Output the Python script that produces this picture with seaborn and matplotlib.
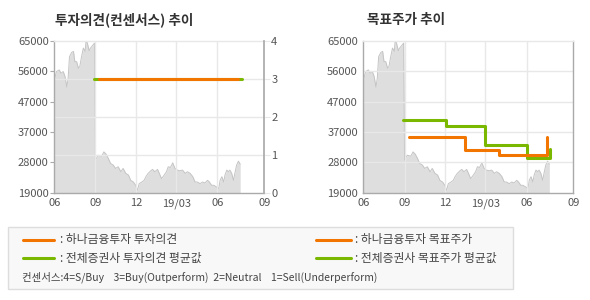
import matplotlib
matplotlib.use("Agg")
import matplotlib.pyplot as plt
import seaborn as sns
import pandas as pd
import numpy as np
from matplotlib.patches import Rectangle
from matplotlib.lines import Line2D

sns.set_theme(style="white")
plt.rcParams['font.family'] = ['Noto Sans CJK KR', 'DejaVu Sans']

# ---- data ----
price_days = [0, 5, 11, 15, 20, 24, 28, 31, 34, 39, 43, 46, 50, 54, 57, 61, 65, 69, 71, 74,
              78, 81, 87, 90, 91, 92, 98, 106, 111, 116, 121, 126, 132, 137, 143, 149, 154,
              160, 166, 171, 177, 182, 186, 190, 196, 201, 205, 210, 216, 220, 225, 231, 235,
              240, 246, 251, 255, 260, 265, 270, 275, 281, 287, 293, 298, 304, 310, 315, 320,
              326, 332, 337, 343, 347, 352, 357, 363, 368, 371, 375, 379, 382, 386, 390, 393,
              397, 401, 404, 408, 412, 416]
price_vals = [53200, 55700, 56200, 55200, 55700, 54200, 51000, 53700, 60200, 61500, 61800,
              58700, 58700, 56700, 57200, 60200, 62800, 61800, 65000, 64300, 62000, 62800,
              63800, 64300, 47100, 28900, 30400, 30100, 31400, 30700, 29400, 27900, 27400,
              26400, 26900, 25400, 26400, 24900, 24400, 22800, 22300, 21300, 19800, 21800,
              22300, 22800, 23900, 24900, 25700, 26100, 25400, 26100, 24900, 23300, 24400,
              25400, 26900, 26700, 28100, 26400, 25900, 25700, 25900, 24900, 25400, 24900,
              23900, 22300, 22300, 21800, 22300, 22000, 22800, 22300, 21300, 21300, 20800,
              20300, 22800, 23900, 22300, 24400, 25900, 25400, 25900, 24900, 22800, 24900,
              27400, 28600, 27700]

opinion_hana_days = [100, 412]
opinion_hana_vals = [3, 3]
opinion_avg_days = [89, 420]
opinion_avg_vals = [3, 3]

target_hana_days = [101, 228, 303, 411]
target_hana_vals = [36000, 32000, 30400, 36000]
target_avg_days = [89, 184, 273, 365, 417]
target_avg_vals = [41000, 39300, 33400, 29700, 32300]

xtick_pos = [0, 92, 183, 273, 365, 470]
xtick_labels = ['06', '09', '12', '19/03', '06', '09']
ytick_pos = [19000, 28200, 37400, 46600, 55800, 65000]
ytick_labels = ['19000', '28000', '37000', '47000', '56000', '65000']

titles = ['투자의견(컨센서스) 추이', '목표주가 추이']
legend_labels = [': 하나금융투자 투자의견', ': 전체증권사 투자의견 평균값',
                 ': 하나금융투자 목표주가', ': 전체증권사 목표주가 평균값']
consensus_note = '컨센서스:4=S/Buy    3=Buy(Outperform)  2=Neutral    1=Sell(Underperform)'

ORANGE = '#f27500'
GREEN = '#7ab800'
AREA = '#dedede'
AREA_LINE = '#c4c4c4'
GRID = '#e8e8e8'
SPINE = '#aaaaaa'
TXT = '#555555'

price_df = pd.DataFrame({'day': price_days, 'price': price_vals})

fig = plt.figure(figsize=(5.9, 3.0), dpi=100)

def base_axes(rect):
    ax = fig.add_axes(rect)
    ax.set_xlim(0, 470)
    ax.set_ylim(19000, 65000)
    ax.fill_between(price_df['day'], price_df['price'], 19000, color=AREA, lw=0, zorder=1)
    sns.lineplot(data=price_df, x='day', y='price', ax=ax, color=AREA_LINE, lw=0.7, zorder=2)
    ax.set_xticks(xtick_pos)
    ax.set_xticklabels(xtick_labels)
    ax.set_yticks(ytick_pos)
    ax.set_yticklabels(ytick_labels)
    ax.set_xlabel('')
    ax.set_ylabel('')
    ax.tick_params(axis='both', labelsize=8, colors=TXT, length=3, width=0.8, pad=1)
    ax.tick_params(axis='both', color=SPINE)
    for s in ['left', 'bottom', 'right']:
        ax.spines[s].set_color(SPINE)
        ax.spines[s].set_linewidth(1.0)
    ax.spines['top'].set_color(GRID)
    ax.spines['top'].set_linewidth(1.0)
    for xp in xtick_pos[1:-1]:
        ax.axvline(xp, color=GRID, lw=1.0, zorder=2.5)
    return ax

# Left chart
axL = base_axes([0.092, 0.357, 0.356, 0.507])
axL.spines['right'].set_visible(False)
for yv in [30500, 42000, 53500]:
    axL.axhline(yv, color=GRID, lw=1.0, zorder=2.5)
axR2 = axL.twinx()
axR2.set_ylim(0, 4)
axR2.set_yticks([0, 1, 2, 3, 4])
axR2.tick_params(axis='y', labelsize=8, colors=TXT, length=4, width=0.8, pad=1)
axR2.tick_params(axis='y', color=GRID)
for s in ['left', 'bottom', 'top']:
    axR2.spines[s].set_visible(False)
axR2.spines['right'].set_color(SPINE)
sns.lineplot(x=opinion_avg_days, y=opinion_avg_vals, ax=axR2, color=GREEN, lw=2.2, zorder=3)
sns.lineplot(x=opinion_hana_days, y=opinion_hana_vals, ax=axR2, color=ORANGE, lw=2.2, zorder=4)
axR2.set_xlim(0, 470)
axR2.set_ylabel('')
axL.set_zorder(axR2.get_zorder() - 1)
axR2.patch.set_visible(False)
axL.set_ylim(19000, 65000)

# Right chart
axP = base_axes([0.616, 0.357, 0.356, 0.507])
axP.spines['right'].set_color(SPINE)
for yv in ytick_pos[1:-1]:
    axP.axhline(yv, color=GRID, lw=1.0, zorder=2.5)
sns.lineplot(x=target_avg_days, y=target_avg_vals, ax=axP, color=GREEN, lw=2.2,
             drawstyle='steps-post', zorder=3)
sns.lineplot(x=target_hana_days, y=target_hana_vals, ax=axP, color=ORANGE, lw=2.2,
             drawstyle='steps-post', zorder=4)
axP.set_xlabel('')
axP.set_ylabel('')

fig.text(55 / 590, 1 - 20 / 300, titles[0], fontsize=9.8, fontweight='bold', color='#333333',
         va='center', ha='left')
fig.text(367 / 590, 1 - 20 / 300, titles[1], fontsize=9.8, fontweight='bold', color='#333333',
         va='center', ha='left')

# Legend box
fig.patches.append(Rectangle((8 / 590, 1 - 289 / 300), 505 / 590, 62 / 300,
                             transform=fig.transFigure, facecolor='#f8f8f8',
                             edgecolor='#dddddd', lw=1.0))
rows = [240, 258]
cols = [(23, 54, 60), (316, 351, 355)]
colors = [ORANGE, GREEN]
k = 0
for c in cols:
    for r, col in zip(rows, colors):
        yy = 1 - r / 300
        fig.add_artist(Line2D([c[0] / 590, c[1] / 590], [yy, yy], color=col, lw=2.2,
                              transform=fig.transFigure))
        fig.text(c[2] / 590, yy, legend_labels[k], fontsize=8.5, color='#444444', va='center',
                 ha='left')
        k += 1
fig.text(22 / 590, 1 - 277 / 300, consensus_note, fontsize=7.5, color='#444444', va='center',
         ha='left')

fig.savefig('out.png', dpi=100)
